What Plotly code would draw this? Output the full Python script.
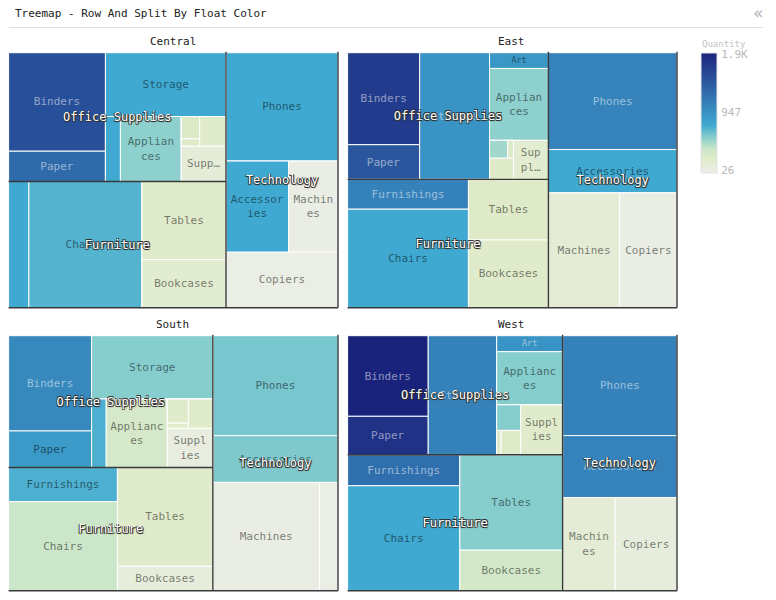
import plotly.graph_objects as go

# the page keeps its 8px body margin, so the figure is a bit smaller than the window
PAGE_W, PAGE_H, BODY = 776, 600, 8
W, H = PAGE_W - BODY, PAGE_H - BODY
MONO = "DejaVu Sans Mono"

# top-left / bottom-right pixel box of each small multiple (page pixels)
PANELS = {
    "Central": (8.6, 52.7, 338, 307.8),
    "East": (347.6, 52.7, 677, 307.8),
    "South": (8.6, 335.7, 338, 590.8),
    "West": (347.6, 335.7, 677, 590.8),
}

SUBCATS = ["Binders", "Paper", "Storage", "Art", "Appliances", "Labels", "Fasteners", "Envelopes", "Supplies",
           "Furnishings", "Chairs", "Tables", "Bookcases",
           "Phones", "Accessories", "Machines", "Copiers"]

central_sales = [56900, 17500, 45900, 5800, 23600, 2450, 780, 4640, 9470, 15250, 85200, 39150, 24160, 72400, 33960, 26800, 37260]
east_sales = [53500, 20170, 71610, 7490, 34190, 2600, 820, 4120, 11000, 29070, 96260, 39140, 43820, 100600, 45030, 66100, 53220]
south_sales = [36850, 14150, 35770, 4660, 19530, 2350, 500, 3350, 8320, 17310, 45180, 43920, 10900, 58300, 27280, 53890, 9300]
west_sales = [55960, 26660, 70530, 9100, 30240, 4100, 920, 5300, 18070, 30070, 101780, 84750, 36000, 98680, 61110, 42400, 49750]

central_qty = [1500, 1280, 763, 763, 560, 265, 247, 228, 136, 763, 708, 228, 192, 763, 763, 63, 45]
east_qty = [1665, 1444, 947, 910, 560, 505, 265, 247, 192, 1094, 763, 247, 228, 1076, 763, 155, 63]
south_qty = [1039, 892, 579, 726, 321, 228, 228, 228, 81, 726, 394, 228, 118, 615, 597, 63, 45]
west_qty = [1868, 1740, 1094, 947, 579, 247, 247, 579, 228, 1242, 763, 579, 339, 1094, 1076, 155, 100]

central_text = ["Binders", "Paper", "Storage", "", "Applian<br>ces", "", "", "", "Supp…", "", "Chairs", "Tables", "Bookcases",
                "Phones", "Accessor<br>ies", "Machin<br>es", "Copiers"]
east_text = ["Binders", "Paper", "Storage", "Art", "Applian<br>ces", "", "", "", "Sup<br>pl…", "Furnishings", "Chairs", "Tables", "Bookcases",
             "Phones", "Accessories", "Machines", "Copiers"]
south_text = ["Binders", "Paper", "Storage", "", "Applianc<br>es", "", "", "", "Suppl<br>ies", "Furnishings", "Chairs", "Tables", "Bookcases",
              "Phones", "Accessories", "Machines", ""]
west_text = ["Binders", "Paper", "Storage", "Art", "Applianc<br>es", "", "", "", "Suppl<br>ies", "Furnishings", "Chairs", "Tables", "Bookcases",
             "Phones", "Accessories", "Machin<br>es", "Copiers"]

# tiling order, splits alternate x / y with each nesting level
central_tree = [[[["Binders", "Paper"], ["Storage", ["Art", "Appliances", [[["Labels", "Fasteners"], "Envelopes"], "Supplies"]]]],
                 ["Furnishings", "Chairs", ["Tables", "Bookcases"]]],
                ["Phones", ["Accessories", "Machines"], "Copiers"]]
east_tree = [[[["Binders", "Paper"], "Storage", ["Art", "Appliances", [[["Labels", "Fasteners"], "Envelopes"], "Supplies"]]],
              [["Furnishings", "Chairs"], ["Tables", "Bookcases"]]],
             ["Phones", "Accessories", ["Machines", "Copiers"]]]
south_tree = [[[["Binders", "Paper"], ["Storage", ["Art", "Appliances", [[["Labels", "Fasteners"], "Envelopes"], "Supplies"]]]],
               [["Furnishings", "Chairs"], ["Tables", "Bookcases"]]],
              ["Phones", "Accessories", ["Machines", "Copiers"]]]
west_tree = [[[["Binders", "Paper"], "Storage", ["Art", "Appliances", [["Envelopes", ["Fasteners", "Labels"]], "Supplies"]]],
              [["Furnishings", "Chairs"], ["Tables", "Bookcases"]]],
             ["Phones", "Accessories", ["Machines", "Copiers"]]]

REGIONS = {
    "Central": (central_sales, central_qty, central_text, central_tree),
    "East": (east_sales, east_qty, east_text, east_tree),
    "South": (south_sales, south_qty, south_text, south_tree),
    "West": (west_sales, west_qty, west_text, west_tree),
}

QTY_MIN, QTY_MAX = 26, 1868
COLORSCALE = [[0, "#ebeee8"], [0.12, "#dfebc8"], [0.2, "#cbe6c9"], [0.3, "#86cdcd"], [0.4, "#3fa9d1"],
              [0.55, "#3688bd"], [0.75, "#2c5aa0"], [1, "#1a237c"]]
LIGHT_TEXT_FROM = 930
OUTLINE = "1px 1px 1px #333,-0.6px -0.6px 0.6px #333,1px -0.6px 0.6px #333,-0.6px 1px 0.6px #333"


def px(x):
    return (x - BODY) / W


def py(y):
    return 1 - (y - BODY) / H


def leaves(node):
    if isinstance(node, str):
        return [node]
    out = []
    for n in node:
        out += leaves(n)
    return out


def flatten(node, parent, key, rows):
    # hidden parents carry no value, leaves carry everything
    if isinstance(node, str):
        rows.append((key + node, parent, node))
        return
    rows.append((key, parent, None))
    for i, child in enumerate(node):
        flatten(child, key, f"{key}/{i}/", rows)


def domain(box):
    x0, y0, x1, y1 = box
    return dict(x=[px(x0), px(x1)], y=[py(y1), py(y0)])


fig = go.Figure()
shapes = []
annotations = []

for region, (sales, qty, text, tree) in REGIONS.items():
    box = PANELS[region]
    by_name = {n: i for i, n in enumerate(SUBCATS)}
    rows = []
    flatten(tree, "", region, rows)
    ids, parents, values, colors, labels, fonts = [], [], [], [], [], []
    for node_id, parent, name in rows:
        ids.append(node_id)
        parents.append(parent)
        if name is None:
            values.append(0)
            colors.append(QTY_MIN)
            labels.append("")
            fonts.append("rgba(0,0,0,0)")
        else:
            i = by_name[name]
            values.append(sales[i])
            colors.append(qty[i])
            labels.append(text[i])
            fonts.append("rgba(255,255,255,0.5)" if qty[i] >= LIGHT_TEXT_FROM else "rgba(0,0,0,0.5)")

    marker = dict(colors=colors, colorscale=COLORSCALE, cmin=QTY_MIN, cmax=QTY_MAX,
                  showscale=region == "Central", depthfade=False,
                  line=dict(color="white", width=1), pad=dict(t=0, l=0, r=0, b=0))
    if region == "Central":
        marker["colorbar"] = dict(
            thickness=16, len=120, lenmode="pixels", x=px(701), xanchor="left", xpad=0, ypad=0,
            y=py(53), yanchor="top", outlinecolor="#e4e4e4", outlinewidth=1,
            tickvals=[72, 960, 1853], ticktext=["26", "947", "1.9K"],
            ticks="outside", ticklen=2, tickcolor="rgba(0,0,0,0)",
            tickfont=dict(family=MONO, size=11, color="#b8b8b8"),
        )
    fig.add_trace(go.Treemap(
        ids=ids, parents=parents, labels=ids, values=values, text=labels, textinfo="text",
        textposition="middle center", textfont=dict(family=MONO, size=11, color=fonts),
        marker=marker, sort=False, tiling=dict(packing="slice-dice", pad=0),
        pathbar=dict(visible=False), root=dict(color="rgba(0,0,0,0)"),
        domain=domain(box), hoverinfo="skip",
    ))

    # category totals, same split order, only the names
    left, tech = tree
    office, furniture = left
    total = lambda node: sum(sales[by_name[n]] for n in leaves(node))
    cat_ids = [region, region + "L", "Office Supplies" + region, "Furniture" + region, "Technology" + region]
    fig.add_trace(go.Treemap(
        ids=cat_ids, parents=["", region, region + "L", region + "L", region], labels=cat_ids,
        values=[0, 0, total(office), total(furniture), total(tech)],
        text=["", "", "Office Supplies", "Furniture", "Technology"], textinfo="text",
        textposition="middle center",
        textfont=dict(family=MONO, size=12, color="white", shadow=OUTLINE),
        marker=dict(colors=["rgba(0,0,0,0)"] * 5, depthfade=False, line=dict(width=0), pad=dict(t=0, l=0, r=0, b=0)),
        sort=False, tiling=dict(packing="slice-dice", pad=0),
        pathbar=dict(visible=False), root=dict(color="rgba(0,0,0,0)"),
        domain=domain(box), hoverinfo="skip",
    ))

    # dark separators between categories and on the right / bottom edge
    x0, y0, x1, y1 = box
    split_x = x0 + (x1 - x0) * total(left) / total(tree)
    split_y = y0 + (y1 - y0) * total(office) / total(left)
    segments = [(split_x, y0 - 1, split_x, y1), (x0, split_y, split_x, split_y),
                (x1, y0 - 1, x1, y1), (x0, y1, x1, y1)]
    for a, b, c, d in segments:
        shapes.append(dict(type="line", xref="paper", yref="paper", layer="above",
                           x0=px(a), x1=px(c), y0=py(b), y1=py(d),
                           line=dict(color="#3a3a3a", width=1.4)))

    annotations.append(dict(text=region, x=px((x0 + x1) / 2 - 0.5), y=py(41.5) if y0 < 100 else py(324.5),
                            xref="paper", yref="paper", showarrow=False, xanchor="center", yanchor="middle",
                            font=dict(family=MONO, size=11, color="#222")))

annotations += [
    dict(text="Treemap - Row And Split By Float Color", x=px(12.5), y=py(14), xref="paper", yref="paper",
         showarrow=False, xanchor="left", yanchor="middle", font=dict(family=MONO, size=11, color="#222")),
    dict(text="«", x=px(757.5), y=py(13), xref="paper", yref="paper", showarrow=False,
         xanchor="center", yanchor="middle", font=dict(family="DejaVu Sans", size=17, color="#b5b5b5")),
    dict(text="Quantity", x=px(699.5), y=py(44), xref="paper", yref="paper", showarrow=False,
         xanchor="left", yanchor="middle", font=dict(family=MONO, size=9, color="#c4c4c4")),
]
shapes.append(dict(type="line", xref="paper", yref="paper", x0=px(9), x1=px(763), y0=py(27.5), y1=py(27.5),
                   line=dict(color="#e0e0e0", width=1)))

fig.update_layout(width=W, height=H, margin=dict(l=0, r=0, t=0, b=0), paper_bgcolor="white",
                  shapes=shapes, annotations=annotations, showlegend=False)
fig.write_html("out.html")
